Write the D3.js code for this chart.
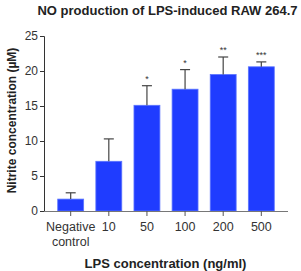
<!DOCTYPE html>
<html>
<head>
<meta charset="utf-8">
<script src="https://cdn.jsdelivr.net/npm/d3@7"></script>
<style>
  body { margin: 0; background: #fff; }
  text { font-family: "Liberation Sans", Arial, sans-serif; }
</style>
</head>
<body>
<div id="chart"></div>
<script>
// chart data
const categories = ["Negative control", "10", "50", "100", "200", "500"];
const means = [1.7, 7.1, 15.1, 17.4, 19.5, 20.6];
const errors = [0.9, 3.2, 2.8, 2.8, 2.5, 0.7];
const stars = ["", "", "*", "*", "**", "***"];
const yTicks = [0, 5, 10, 15, 20, 25];

const width = 301, height = 271;
const margin = {top: 36, right: 13, bottom: 60, left: 44};

const svg = d3.select("#chart")
    .append("svg")
    .attr("width", width)
    .attr("height", height);

const x = d3.scaleBand()
    .domain(categories)
    .range([margin.left, width - margin.right])
    .paddingInner(0.32)
    .paddingOuter(0.36);

const y = d3.scaleLinear()
    .domain([0, 25])
    .range([height - margin.bottom, margin.top]);

// title
svg.append("text")
    .attr("x", 167.5)
    .attr("y", 15)
    .attr("text-anchor", "middle")
    .style("font-size", "13px")
    .style("font-weight", "bold")
    .style("fill", "#222")
    .text("NO production of LPS-induced RAW 264.7");

// bars
svg.selectAll(".bar")
    .data(categories)
    .enter()
    .append("rect")
    .attr("class", "bar")
    .attr("x", d => x(d))
    .attr("y", (d, i) => y(means[i]))
    .attr("width", x.bandwidth())
    .attr("height", (d, i) => y(0) - y(means[i]))
    .attr("fill", "#1f3cff")
    .attr("stroke", "#5b74ff")
    .attr("stroke-width", 0.8);

// error bars
const err = svg.append("g").attr("stroke", "#444").attr("stroke-width", 1.2);
categories.forEach((c, i) => {
    const cx = x(c) + x.bandwidth() / 2;
    err.append("line")
        .attr("x1", cx).attr("x2", cx)
        .attr("y1", y(means[i])).attr("y2", y(means[i] + errors[i]));
    err.append("line")
        .attr("x1", cx - 5).attr("x2", cx + 5)
        .attr("y1", y(means[i] + errors[i])).attr("y2", y(means[i] + errors[i]));
});

// significance stars
svg.selectAll(".star")
    .data(categories)
    .enter()
    .append("text")
    .attr("class", "star")
    .attr("x", d => x(d) + x.bandwidth() / 2)
    .attr("y", (d, i) => y(means[i] + errors[i]) - 4)
    .attr("text-anchor", "middle")
    .style("font-size", "9px")
    .style("fill", "#333")
    .text((d, i) => stars[i]);

// y axis
const yAxis = svg.append("g")
    .attr("transform", `translate(${margin.left},0)`)
    .call(d3.axisLeft(y).tickValues(yTicks).tickSize(4).tickPadding(2));
yAxis.select(".domain").attr("stroke", "#333");
yAxis.selectAll(".tick line").attr("stroke", "#333");
yAxis.selectAll(".tick text")
    .style("font-size", "12px")
    .style("fill", "#333");

// x axis
const xAxis = svg.append("g")
    .attr("transform", `translate(0,${y(0)})`)
    .call(d3.axisBottom(x).tickSize(5).tickSizeOuter(0));
xAxis.select(".domain").attr("stroke", "#777").attr("d", `M${margin.left},0.5H${width - margin.right}`);
xAxis.selectAll(".tick line").attr("stroke", "#555");
xAxis.selectAll(".tick text").remove();

// x tick labels (Negative control wraps to two lines)
categories.forEach(c => {
    const t = svg.append("text")
        .attr("x", x(c) + x.bandwidth() / 2)
        .attr("y", 231)
        .attr("text-anchor", "middle")
        .style("font-size", "12.5px")
        .style("fill", "#333");
    c.split(" ").forEach((w, j) => {
        t.append("tspan")
            .attr("x", x(c) + x.bandwidth() / 2)
            .attr("dy", j === 0 ? 0 : 15)
            .text(w);
    });
});

// axis titles
svg.append("text")
    .attr("x", 165.5)
    .attr("y", 268)
    .attr("text-anchor", "middle")
    .style("font-size", "13px")
    .style("font-weight", "bold")
    .style("fill", "#222")
    .text("LPS concentration (ng/ml)");

svg.append("text")
    .attr("transform", "rotate(-90)")
    .attr("x", -120.5)
    .attr("y", 16)
    .attr("text-anchor", "middle")
    .style("font-size", "12px")
    .style("font-weight", "bold")
    .style("fill", "#222")
    .text("Nitrite concentration (µM)");
</script>
</body>
</html>
